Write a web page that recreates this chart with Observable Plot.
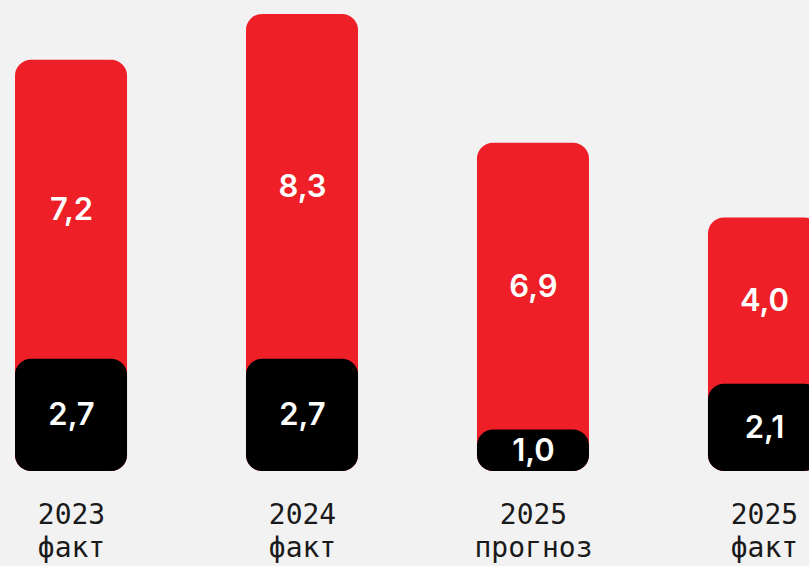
<!DOCTYPE html>
<html><head><meta charset="utf-8">
<script src="https://cdn.jsdelivr.net/npm/d3@7"></script>
<script src="https://cdn.jsdelivr.net/npm/@observablehq/plot@0.6"></script>
<style>html,body{margin:0;padding:0;background:#f2f2f2;overflow:hidden}</style>
</head><body><div id="chart"></div>
<script>
const categories = ["2023\nфакт", "2024\nфакт", "2025\nпрогноз", "2025\nфакт"];
const blackValues = [2.7, 2.7, 1.0, 2.1];
const redValues = [7.2, 8.3, 6.9, 4.0];

const rows = categories.map((c, i) => ({
  cat: c, black: blackValues[i], red: redValues[i], total: blackValues[i] + redValues[i]
}));
const fmt = v => v.toFixed(1).replace(".", ",");
const numFont = {fill: "white", fontSize: 31, fontWeight: 600, fontFamily: "Inter, 'Noto Sans', sans-serif"};

const chart = Plot.plot({
  width: 809, height: 566,
  marginTop: 14, marginBottom: 95, marginLeft: 15, marginRight: 0,
  style: {background: "#f2f2f2", overflow: "hidden"},
  x: {domain: categories, range: [15, 820], paddingInner: 0.515, paddingOuter: 0, round: false},
  y: {domain: [0, 11], axis: null},
  marks: [
    Plot.barY(rows, {x: "cat", y1: 0, y2: "total", fill: "#ee1f27", rx: 16}),
    Plot.barY(rows, {x: "cat", y1: 0, y2: "black", fill: "#000000", rx: 16}),
    Plot.text(rows, {x: "cat", y: d => d.black / 2, text: d => fmt(d.black), ...numFont}),
    Plot.text(rows, {x: "cat", y: d => d.black + d.red / 2, text: d => fmt(d.red), ...numFont}),
    Plot.axisX({tickSize: 0, tickPadding: 29, fontSize: 28, lineHeight: 1.18,
      fontFamily: "'DejaVu Sans Mono', 'Liberation Mono', monospace", fill: "#1a1a1a", label: null})
  ]
});
document.getElementById("chart").appendChild(chart);
</script>
</body></html>
